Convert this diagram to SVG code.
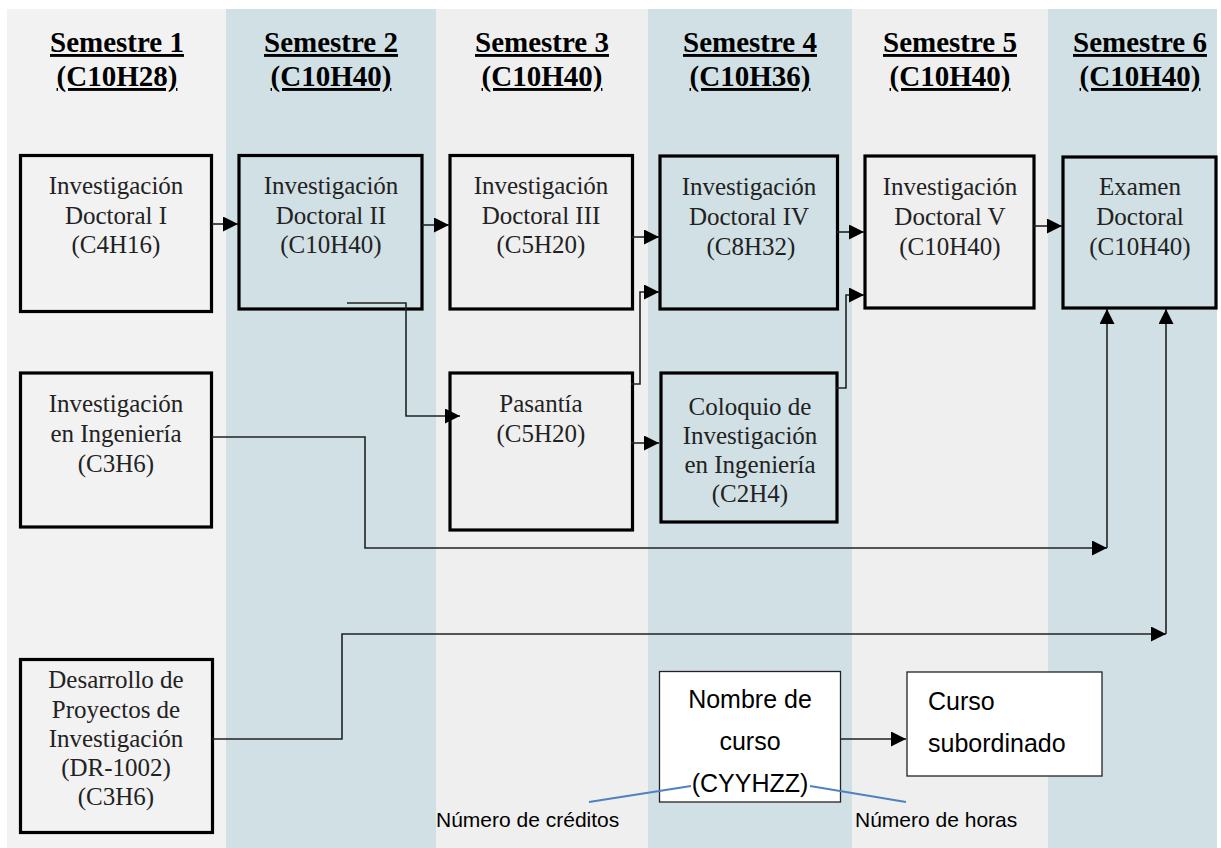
<svg xmlns="http://www.w3.org/2000/svg" width="1221" height="848" viewBox="0 0 1221 848">
<defs>
<style>
.bgA{fill:#f2f2f2}
.bgB{fill:#d1e0e4}
.bgC{fill:#efefef}
.box{stroke:#000;stroke-width:3.2}
.hdr{font-family:"Liberation Serif",serif;font-weight:bold;font-size:29px;fill:#000;text-anchor:middle;text-decoration:underline}
.t{font-family:"Liberation Serif",serif;font-size:25px;fill:#222;text-anchor:middle}
.s{font-family:"Liberation Sans",Arial,sans-serif;font-size:25px;fill:#000}
.n{font-family:"Liberation Sans",Arial,sans-serif;font-size:21px;fill:#000}
.c{fill:none;stroke:#222;stroke-width:1.6}
.b{fill:none;stroke:#4f81bd;stroke-width:1.8}
</style>
<marker id="ah" markerUnits="userSpaceOnUse" markerWidth="16" markerHeight="16" refX="15" refY="7.5" orient="auto">
<path d="M0,0 L15,7.5 L0,15 z" fill="#000"/>
</marker>
</defs>

<g id="background">
<rect class="bgA" x="7" y="9" width="219" height="839"/>
<rect class="bgB" x="226" y="9" width="210" height="839"/>
<rect class="bgC" x="436" y="9" width="212" height="839"/>
<rect class="bgB" x="648" y="9" width="204" height="839"/>
<rect class="bgC" x="852" y="9" width="196" height="839"/>
<rect class="bgB" x="1048" y="9" width="169" height="839"/>
</g>

<g id="headers">
<text class="hdr" x="117" y="52">Semestre 1</text>
<text class="hdr" x="117" y="86">(C10H28)</text>
<text class="hdr" x="331" y="52">Semestre 2</text>
<text class="hdr" x="331" y="86">(C10H40)</text>
<text class="hdr" x="542" y="52">Semestre 3</text>
<text class="hdr" x="542" y="86">(C10H40)</text>
<text class="hdr" x="750" y="52">Semestre 4</text>
<text class="hdr" x="750" y="86">(C10H36)</text>
<text class="hdr" x="950" y="52">Semestre 5</text>
<text class="hdr" x="950" y="86">(C10H40)</text>
<text class="hdr" x="1140" y="52">Semestre 6</text>
<text class="hdr" x="1140" y="86">(C10H40)</text>
</g>

<g id="n1">
<rect class="box bgA" x="20.5" y="155.5" width="191" height="156"/>
<text class="t" x="116" y="194">Investigación</text>
<text class="t" x="116" y="224">Doctoral I</text>
<text class="t" x="116" y="253">(C4H16)</text>
</g>
<g id="n2">
<rect class="box bgB" x="239" y="155.5" width="183" height="153.5"/>
<text class="t" x="331" y="194">Investigación</text>
<text class="t" x="331" y="224">Doctoral II</text>
<text class="t" x="331" y="253">(C10H40)</text>
</g>
<g id="n3">
<rect class="box bgC" x="450" y="155.5" width="182.5" height="153.5"/>
<text class="t" x="541" y="194">Investigación</text>
<text class="t" x="541" y="224">Doctoral III</text>
<text class="t" x="541" y="253">(C5H20)</text>
</g>
<g id="n4">
<rect class="box bgB" x="660" y="156" width="177.5" height="153"/>
<text class="t" x="749" y="195">Investigación</text>
<text class="t" x="749" y="225">Doctoral IV</text>
<text class="t" x="751" y="255">(C8H32)</text>
</g>
<g id="n5">
<rect class="box bgC" x="865" y="156" width="169" height="152"/>
<text class="t" x="950" y="195">Investigación</text>
<text class="t" x="950" y="225">Doctoral V</text>
<text class="t" x="950" y="255">(C10H40)</text>
</g>
<g id="n6">
<rect class="box bgB" x="1063" y="157" width="153" height="151"/>
<text class="t" x="1140" y="195">Examen</text>
<text class="t" x="1140" y="225">Doctoral</text>
<text class="t" x="1140" y="255">(C10H40)</text>
</g>
<g id="n7">
<rect class="box bgA" x="20.5" y="373" width="191" height="154"/>
<text class="t" x="116" y="412">Investigación</text>
<text class="t" x="116" y="442">en Ingeniería</text>
<text class="t" x="116" y="472">(C3H6)</text>
</g>
<g id="n8">
<rect class="box bgC" x="450" y="373" width="182.5" height="157"/>
<text class="t" x="541" y="412">Pasantía</text>
<text class="t" x="541" y="442">(C5H20)</text>
</g>
<g id="n9">
<rect class="box bgB" x="661" y="373" width="176" height="149"/>
<text class="t" x="750" y="415">Coloquio de</text>
<text class="t" x="750" y="444">Investigación</text>
<text class="t" x="750" y="473">en Ingeniería</text>
<text class="t" x="750" y="502">(C2H4)</text>
</g>
<g id="n10">
<rect class="box bgA" x="20.5" y="659.5" width="192" height="173"/>
<text class="t" x="116" y="688">Desarrollo de</text>
<text class="t" x="116" y="718">Proyectos de</text>
<text class="t" x="116" y="747">Investigación</text>
<text class="t" x="116" y="776">(DR-1002)</text>
<text class="t" x="116" y="805">(C3H6)</text>
</g>
<g id="legend-course">
<rect x="659.5" y="671.5" width="181" height="130.5" fill="#fff" stroke="#222" stroke-width="1.3"/>
<text class="s" x="750" y="708" text-anchor="middle" font-size="26">Nombre de</text>
<text class="s" x="750" y="750" text-anchor="middle" font-size="26">curso</text>
<text class="s" x="750" y="792" text-anchor="middle" font-size="23">(CYYHZZ)</text>
</g>
<g id="legend-sub">
<rect x="907" y="672" width="195" height="104" fill="#fff" stroke="#222" stroke-width="1.3"/>
<text class="s" x="928" y="710" font-size="26">Curso</text>
<text class="s" x="928" y="752" font-size="26">subordinado</text>
</g>
<g id="legend-notes">
<text class="n" x="436" y="827">Número de créditos</text>
<text class="n" x="855" y="827">Número de horas</text>
</g>

<g id="connectors">
<path class="c" d="M212,224 H238" marker-end="url(#ah)"/>
<path class="c" d="M422,225 H449" marker-end="url(#ah)"/>
<path class="c" d="M632,237 H659" marker-end="url(#ah)"/>
<path class="c" d="M347,303 H406 V416 H460" marker-end="url(#ah)"/>
<path class="c" d="M631,384 H640 V292 H659" marker-end="url(#ah)"/>
<path class="c" d="M631,443 H659" marker-end="url(#ah)"/>
<path class="c" d="M836,388 H846 V295 H864" marker-end="url(#ah)"/>
<path class="c" d="M837,232 H864" marker-end="url(#ah)"/>
<path class="c" d="M1034,226 H1062" marker-end="url(#ah)"/>
<path class="c" d="M212,437 H365 V548 H1107" marker-end="url(#ah)"/>
<path class="c" d="M1107,548 V309" marker-end="url(#ah)"/>
<path class="c" d="M212,739 H342 V634 H1166" marker-end="url(#ah)"/>
<path class="c" d="M1166,634 V309" marker-end="url(#ah)"/>
<path class="c" d="M841,739 H906" marker-end="url(#ah)"/>
<path class="b" d="M589,802 L691,786"/>
<path class="b" d="M810,786 L906,802"/>
</g>
</svg>
